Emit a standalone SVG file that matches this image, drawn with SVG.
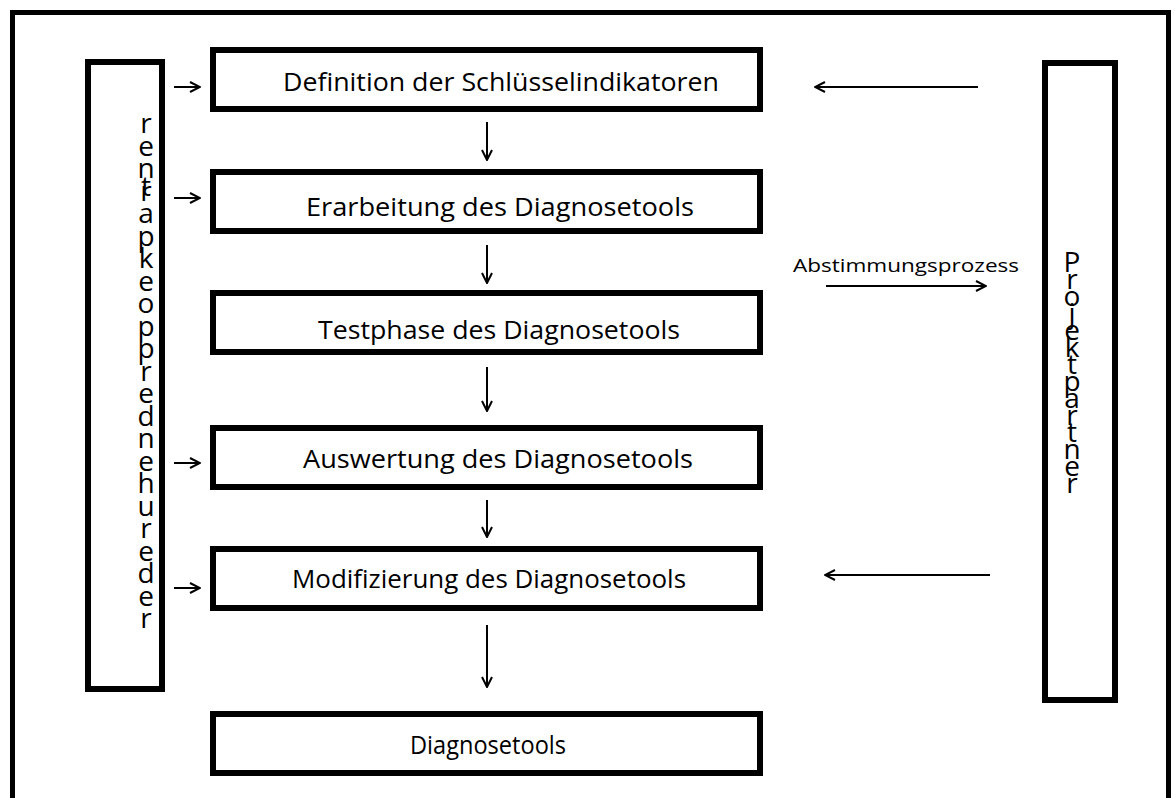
<svg xmlns="http://www.w3.org/2000/svg" width="1176" height="798" viewBox="0 0 1176 798">
<defs>
<style>
.frame{fill:none;stroke:#000;stroke-width:5}
.box{fill:#fff;stroke:#000;stroke-width:6}
.lbl{font-family:"Open Sans","Liberation Sans",sans-serif;font-size:25px;fill:#000;text-anchor:middle}
.small{font-family:"Open Sans","Liberation Sans",sans-serif;font-size:19px;fill:#000}
.vert{font-family:"Open Sans","Liberation Sans",sans-serif;font-size:28px;fill:#000;text-anchor:middle}
.conn{fill:none;stroke:#000;stroke-width:2}
</style>
<marker id="ah" viewBox="0 0 12 12" refX="11" refY="6" markerWidth="12" markerHeight="12" markerUnits="userSpaceOnUse" orient="auto">
<path d="M1,1 L11,6 L1,11" fill="none" stroke="#000" stroke-width="2"/>
</marker>
</defs>
<rect width="1176" height="798" fill="#fff"/>
<rect class="frame" x="12.5" y="12.5" width="1156" height="800"/>

<g id="left-panel">
<rect class="box" x="88" y="62" width="74" height="627"/>
<text class="vert">
<tspan x="146" y="133">r</tspan><tspan x="146" y="156">e</tspan><tspan x="146" y="178">n</tspan><tspan x="146" y="196">t</tspan><tspan x="146" y="201">r</tspan><tspan x="146" y="223">a</tspan><tspan x="146" y="246">p</tspan><tspan x="146" y="268">k</tspan><tspan x="146" y="291">e</tspan><tspan x="146" y="313">o</tspan><tspan x="146" y="336">p</tspan><tspan x="146" y="358">p</tspan><tspan x="146" y="381">r</tspan><tspan x="146" y="403">e</tspan><tspan x="146" y="426">d</tspan><tspan x="146" y="448">n</tspan><tspan x="146" y="471">e</tspan><tspan x="146" y="493">h</tspan><tspan x="146" y="516">u</tspan><tspan x="146" y="538">r</tspan><tspan x="146" y="561">e</tspan><tspan x="146" y="583">d</tspan><tspan x="146" y="606">e</tspan><tspan x="146" y="628">r</tspan>
</text>
</g>

<g id="right-panel">
<rect class="box" x="1045" y="63" width="70" height="637"/>
<text class="vert">
<tspan x="1072" y="272">P</tspan><tspan x="1072" y="289">r</tspan><tspan x="1072" y="306">o</tspan><tspan x="1072" y="323">j</tspan><tspan x="1072" y="340">e</tspan><tspan x="1072" y="357">k</tspan><tspan x="1072" y="374">t</tspan><tspan x="1072" y="391">p</tspan><tspan x="1072" y="408">a</tspan><tspan x="1072" y="425">r</tspan><tspan x="1072" y="442">t</tspan><tspan x="1072" y="459">n</tspan><tspan x="1072" y="476">e</tspan><tspan x="1072" y="493">r</tspan>
</text>
</g>

<g id="n1"><rect class="box" x="213" y="50" width="547" height="59"/><text class="lbl" x="501" y="91" textLength="436" lengthAdjust="spacingAndGlyphs">Definition der Schlüsselindikatoren</text></g>
<g id="n2"><rect class="box" x="213" y="172" width="547" height="59"/><text class="lbl" x="500" y="216" textLength="388" lengthAdjust="spacingAndGlyphs">Erarbeitung des Diagnosetools</text></g>
<g id="n3"><rect class="box" x="213" y="293" width="547" height="59"/><text class="lbl" x="499" y="339" textLength="362" lengthAdjust="spacingAndGlyphs">Testphase des Diagnosetools</text></g>
<g id="n4"><rect class="box" x="213" y="428" width="547" height="59"/><text class="lbl" x="498" y="468" textLength="390" lengthAdjust="spacingAndGlyphs">Auswertung des Diagnosetools</text></g>
<g id="n5"><rect class="box" x="213" y="549" width="547" height="59"/><text class="lbl" x="489" y="588" textLength="394" lengthAdjust="spacingAndGlyphs">Modifizierung des Diagnosetools</text></g>
<g id="n6"><rect class="box" x="213" y="714" width="547" height="59"/><text class="lbl" x="488" y="754" textLength="156" lengthAdjust="spacingAndGlyphs">Diagnosetools</text></g>

<g id="connectors">
<line class="conn" x1="487" y1="122" x2="487" y2="160" marker-end="url(#ah)"/>
<line class="conn" x1="487" y1="245" x2="487" y2="283" marker-end="url(#ah)"/>
<line class="conn" x1="487" y1="367" x2="487" y2="411" marker-end="url(#ah)"/>
<line class="conn" x1="487" y1="500" x2="487" y2="537" marker-end="url(#ah)"/>
<line class="conn" x1="487" y1="625" x2="487" y2="687" marker-end="url(#ah)"/>
<line class="conn" x1="174" y1="87" x2="200" y2="87" marker-end="url(#ah)"/>
<line class="conn" x1="174" y1="198" x2="200" y2="198" marker-end="url(#ah)"/>
<line class="conn" x1="174" y1="463" x2="200" y2="463" marker-end="url(#ah)"/>
<line class="conn" x1="174" y1="588" x2="200" y2="588" marker-end="url(#ah)"/>
<line class="conn" x1="978" y1="87" x2="815" y2="87" marker-end="url(#ah)"/>
<line class="conn" x1="990" y1="575" x2="825" y2="575" marker-end="url(#ah)"/>
<line class="conn" x1="826" y1="286" x2="986" y2="286" marker-end="url(#ah)"/>
<text class="small" x="793" y="272" textLength="226" lengthAdjust="spacingAndGlyphs">Abstimmungsprozess</text>
</g>
</svg>
